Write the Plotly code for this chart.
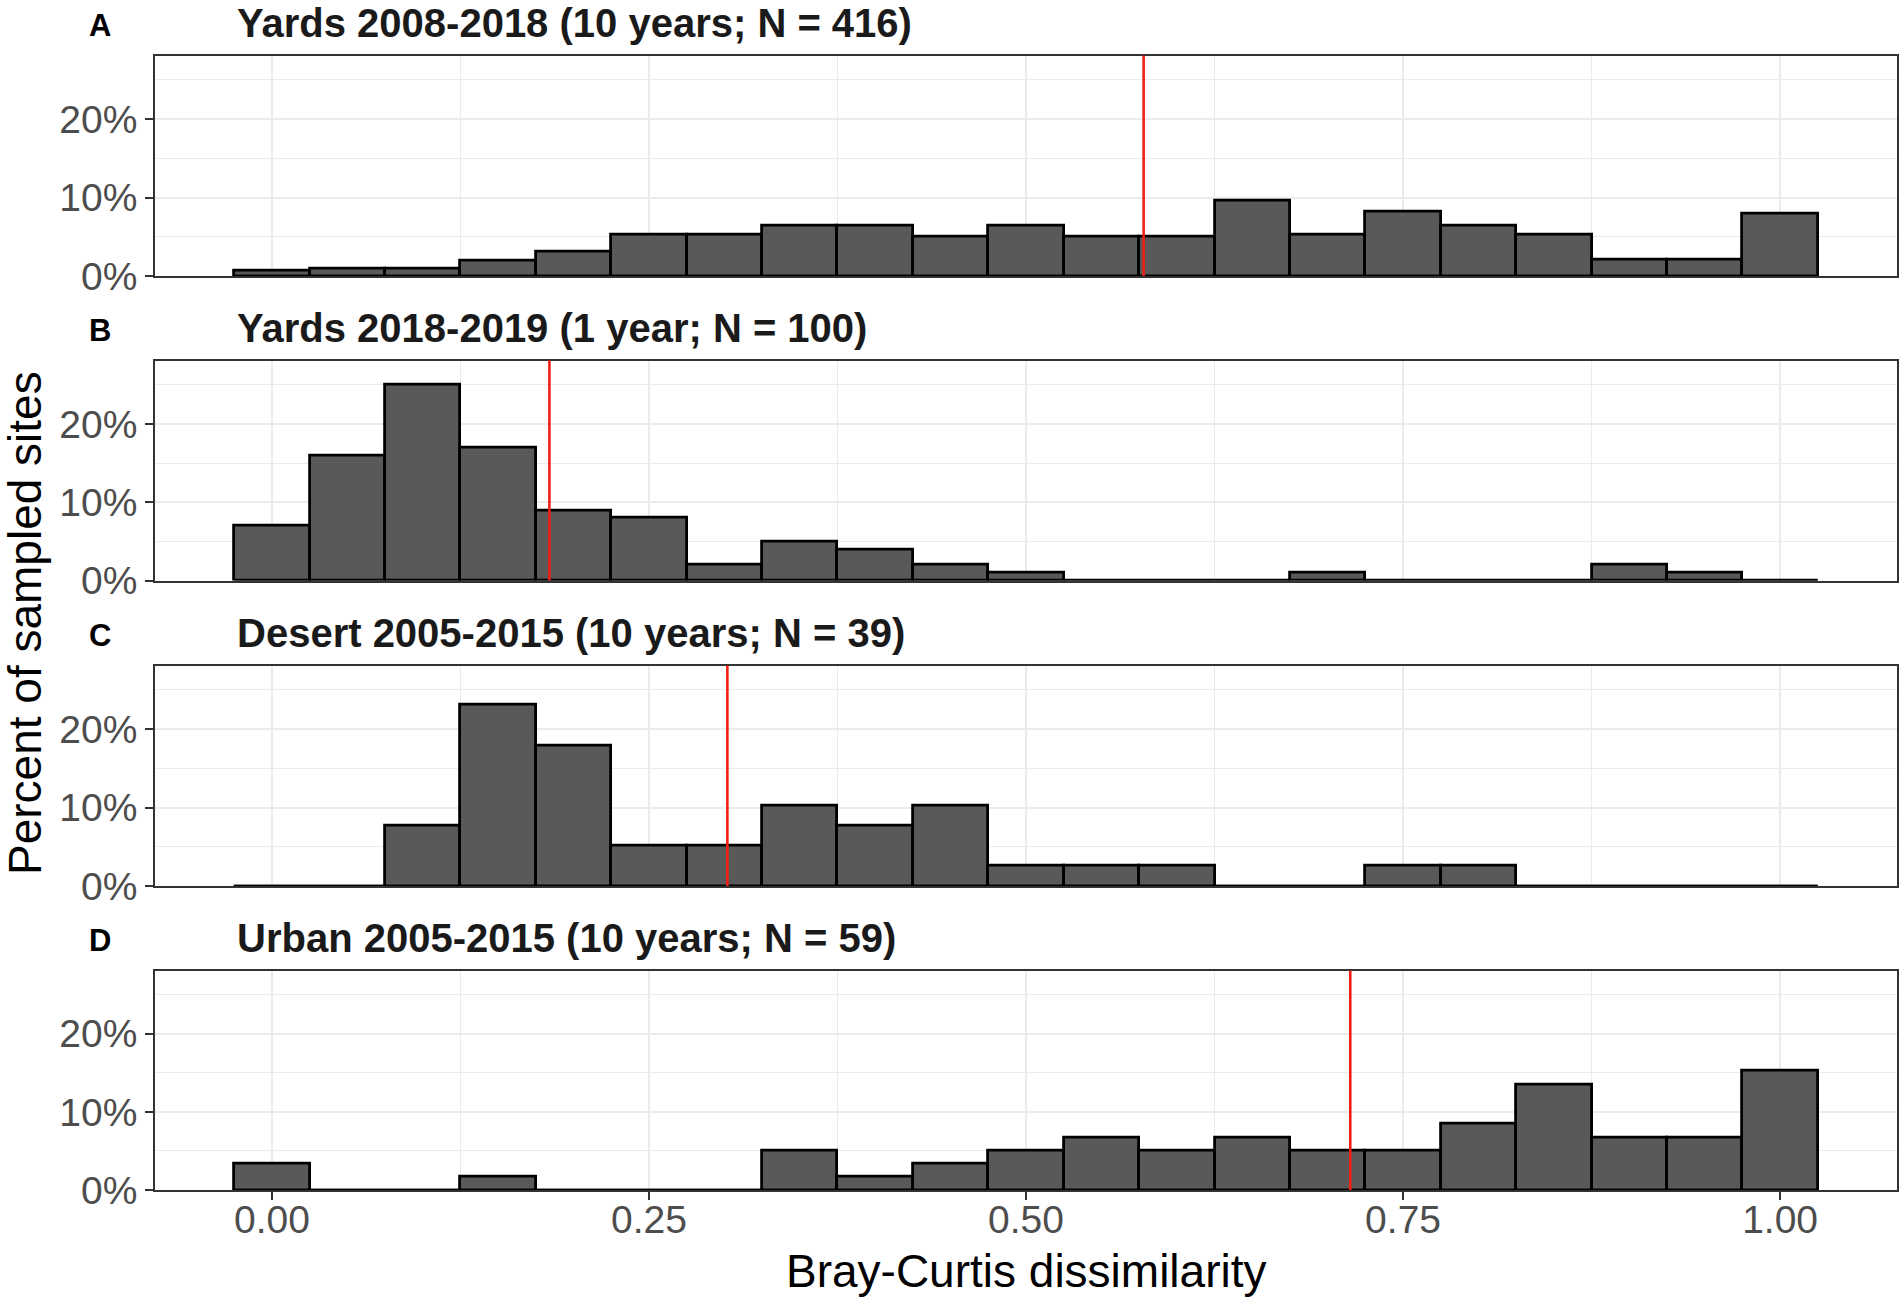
import plotly.graph_objects as go

# ---- data ----
bin_centers = [0.00, 0.05, 0.10, 0.15, 0.20, 0.25, 0.30, 0.35, 0.40, 0.45, 0.50,
               0.55, 0.60, 0.65, 0.70, 0.75, 0.80, 0.85, 0.90, 0.95, 1.00]
bin_width = 0.05

tags = ["A", "B", "C", "D"]
titles = ["Yards 2008-2018 (10 years; N = 416)",
          "Yards 2018-2019 (1 year; N = 100)",
          "Desert 2005-2015 (10 years; N = 39)",
          "Urban 2005-2015 (10 years; N = 59)"]
n_sites = [416, 100, 39, 59]
counts_A = [3, 4, 4, 8, 13, 22, 22, 27, 27, 21, 27, 21, 21, 40, 22, 34, 27, 22, 9, 9, 33]
counts_B = [7, 16, 25, 17, 9, 8, 2, 5, 4, 2, 1, 0, 0, 0, 1, 0, 0, 0, 2, 1, 0]
counts_C = [0, 0, 3, 9, 7, 2, 2, 4, 3, 4, 1, 1, 1, 0, 0, 1, 1, 0, 0, 0, 0]
counts_D = [2, 0, 0, 1, 0, 0, 0, 3, 1, 2, 3, 4, 3, 4, 3, 3, 5, 8, 4, 4, 9]
medians = [0.578, 0.184, 0.302, 0.715]

x_ticks = [0.00, 0.25, 0.50, 0.75, 1.00]
y_ticks = [0, 10, 20]

all_counts = [counts_A, counts_B, counts_C, counts_D]

# ---- layout geometry (pixels) ----
W, H = 1904, 1300
left_px, right_px = 155, 1897
panel_px = [(55.5, 276), (360.5, 580.5), (665.5, 886), (970.5, 1190)]
title_y_px = [23, 328, 633, 938]

FONT = "Liberation Sans, Arial, Helvetica, sans-serif"
GRID = "#EBEBEB"
BORDER = "#333333"

fig = go.Figure()
layout = dict(
    width=W, height=H,
    margin=dict(l=0, r=0, t=0, b=0, autoexpand=False),
    paper_bgcolor="white", plot_bgcolor="white",
    showlegend=False, bargap=0,
    font=dict(family=FONT),
)
shapes = []
annotations = []

xr = [bin_centers[0] - bin_width / 2, bin_centers[-1] + bin_width / 2]
span = xr[1] - xr[0]
x_range = [xr[0] - 0.05 * span, xr[1] + 0.05 * span]

for i in range(4):
    k = "" if i == 0 else str(i + 1)
    xa, ya = "x" + k, "y" + k
    pct = [c / n_sites[i] * 100 for c in all_counts[i]]
    fig.add_trace(go.Bar(
        x=bin_centers, y=pct, width=bin_width,
        marker=dict(color="#595959", line=dict(color="black", width=2.8)),
        xaxis=xa, yaxis=ya, hoverinfo="x+y",
    ))
    # flat outline for empty bins (as ggplot draws)
    fig.add_trace(go.Scatter(
        x=xr, y=[0, 0], mode="lines",
        line=dict(color="black", width=2.4),
        xaxis=xa, yaxis=ya, hoverinfo="skip",
    ))
    top, bot = panel_px[i]
    is_last = (i == 3)
    layout["xaxis" + k] = dict(
        domain=[left_px / W, right_px / W], anchor=ya, automargin=False,
        range=x_range, tickvals=x_ticks,
        ticktext=[f"{v:.2f}" for v in x_ticks],
        showticklabels=is_last,
        ticks="outside" if is_last else "", ticklen=8, tickwidth=2, tickcolor=BORDER,
        ticklabelstandoff=-14,
        tickfont=dict(size=39, color="#4D4D4D", family=FONT),
        showgrid=True, gridcolor=GRID, gridwidth=2.4,
        minor=dict(tickvals=[0.125, 0.375, 0.625, 0.875], showgrid=True,
                   gridcolor=GRID, gridwidth=1.2, ticks=""),
        showline=True, mirror=True, linecolor=BORDER, linewidth=1.6,
        zeroline=False,
    )
    layout["yaxis" + k] = dict(
        domain=[1 - bot / H, 1 - top / H], anchor=xa, automargin=False,
        range=[0, 28.1], tickvals=y_ticks,
        ticktext=[f"{v}%" for v in y_ticks],
        ticks="outside", ticklen=8, tickwidth=2, tickcolor=BORDER,
        tickfont=dict(size=39, color="#4D4D4D", family=FONT),
        showgrid=True, gridcolor=GRID, gridwidth=2.4,
        minor=dict(tickvals=[5, 15, 25], showgrid=True,
                   gridcolor=GRID, gridwidth=1.2, ticks=""),
        showline=True, mirror=True, linecolor=BORDER, linewidth=1.6,
        zeroline=False,
    )
    shapes.append(dict(
        type="line", xref=xa, yref=ya + " domain",
        x0=medians[i], x1=medians[i], y0=0, y1=1,
        line=dict(color="#F01E14", width=2.6), layer="above",
    ))
    annotations.append(dict(
        text="<b>" + titles[i] + "</b>", xref="paper", yref="paper",
        x=235 / W, y=1 - title_y_px[i] / H, xanchor="left", yanchor="middle",
        showarrow=False, font=dict(size=40, color="#1A1A1A", family=FONT),
    ))
    annotations.append(dict(
        text="<b>" + tags[i] + "</b>", xref="paper", yref="paper",
        x=100 / W, y=1 - (title_y_px[i] + 2) / H, xanchor="center", yanchor="middle",
        showarrow=False, font=dict(size=31, color="black", family=FONT),
    ))

annotations.append(dict(
    text="Bray-Curtis dissimilarity", xref="paper", yref="paper",
    x=(left_px + right_px) / 2 / W, y=1 - 1271 / H, xanchor="center", yanchor="middle",
    showarrow=False, font=dict(size=46, color="black", family=FONT),
))
annotations.append(dict(
    text="Percent of sampled sites", xref="paper", yref="paper",
    x=25 / W, y=1 - 623 / H, xanchor="center", yanchor="middle", textangle=-90,
    showarrow=False, font=dict(size=46, color="black", family=FONT),
))

layout["shapes"] = shapes
layout["annotations"] = annotations
fig.update_layout(**layout)
fig.write_html("out.html",
               config={"displayModeBar": False},
               post_script="document.body.style.margin='0px';"
                           "document.body.style.overflow='hidden';")
